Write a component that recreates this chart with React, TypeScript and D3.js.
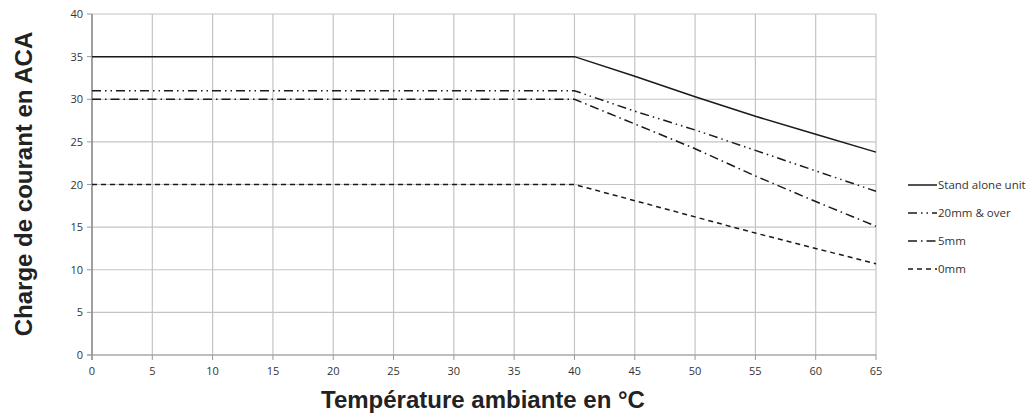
import React from "react";
import * as d3 from "d3";

const temps = [0, 5, 10, 15, 20, 25, 30, 35, 40, 45, 50, 55, 60, 65];
const standAlone = [35, 35, 35, 35, 35, 35, 35, 35, 35, 32.7, 30.3, 28.0, 25.9, 23.8];
const mm20 = [31, 31, 31, 31, 31, 31, 31, 31, 31, 28.6, 26.4, 24.0, 21.6, 19.2];
const mm5 = [30, 30, 30, 30, 30, 30, 30, 30, 30, 27.1, 24.2, 21.0, 18.0, 15.1];
const mm0 = [20, 20, 20, 20, 20, 20, 20, 20, 20, 18.1, 16.2, 14.3, 12.5, 10.7];
const xTicks = [0, 5, 10, 15, 20, 25, 30, 35, 40, 45, 50, 55, 60, 65];
const yTicks = [0, 5, 10, 15, 20, 25, 30, 35, 40];

const series = [
  { name: "Stand alone unit", values: standAlone, dash: "" },
  { name: "20mm & over", values: mm20, dash: "9,4,1.5,4,1.5,4" },
  { name: "5mm", values: mm5, dash: "9,4,1.5,4" },
  { name: "0mm", values: mm0, dash: "5,4" },
];

const W = 1030;
const H = 420;
const left = 92;
const right = 876;
const top = 14;
const bottom = 355;

export default function App() {
  const x = d3.scaleLinear().domain([0, 65]).range([left, right]);
  const y = d3.scaleLinear().domain([0, 40]).range([bottom, top]);
  const line = d3
    .line<number>()
    .x((_, i) => x(temps[i]))
    .y((d) => y(d));
  const tickFont = "'Open Sans', sans-serif";

  return (
    <svg width={W} height={H} style={{ position: "absolute", left: 0, top: 0, background: "#fff" }}>
      {/* grid */}
      {xTicks.map((t) => (
        <line key={"gx" + t} x1={x(t)} x2={x(t)} y1={top} y2={bottom} stroke="#c4c4c4" strokeWidth={1.2} />
      ))}
      {yTicks.map((t) => (
        <line key={"gy" + t} x1={left} x2={right} y1={y(t)} y2={y(t)} stroke="#c4c4c4" strokeWidth={1.2} />
      ))}
      {/* axes */}
      <line x1={left} x2={left} y1={top} y2={bottom + 5} stroke="#777" strokeWidth={1.2} />
      <line x1={left - 5} x2={right} y1={bottom} y2={bottom} stroke="#999" strokeWidth={1.2} />
      {yTicks.map((t) => (
        <g key={"yt" + t}>
          <line x1={left - 5} x2={left} y1={y(t)} y2={y(t)} stroke="#999" />
          <text x={left - 9} y={y(t) + 4} textAnchor="end" fontSize={11} fontFamily={tickFont} fill="#333">
            {t}
          </text>
        </g>
      ))}
      {xTicks.map((t) => (
        <g key={"xt" + t}>
          <line x1={x(t)} x2={x(t)} y1={bottom} y2={bottom + 5} stroke="#999" />
          <text x={x(t)} y={bottom + 20} textAnchor="middle" fontSize={11} fontFamily={tickFont} fill="#333">
            {t}
          </text>
        </g>
      ))}
      {/* series */}
      {series.map((s) => (
        <path
          key={s.name}
          d={line(s.values) || ""}
          fill="none"
          stroke="#1a1a1a"
          strokeWidth={1.5}
          strokeDasharray={s.dash || undefined}
        />
      ))}
      {/* legend */}
      {series.map((s, i) => {
        const ly = 185 + i * 28;
        return (
          <g key={"lg" + s.name}>
            <line x1={908} x2={937} y1={ly} y2={ly} stroke="#1a1a1a" strokeWidth={1.5} strokeDasharray={s.dash || undefined} />
            <text x={938} y={ly + 4} fontSize={11.5} fontFamily={tickFont} fill="#333">
              {s.name}
            </text>
          </g>
        );
      })}
      {/* axis titles */}
      <text
        x={483}
        y={408}
        textAnchor="middle"
        fontSize={24}
        fontWeight="bold"
        fontFamily="'Liberation Sans', Arial, sans-serif"
        fill="#222"
      >
        Température ambiante en °C
      </text>
      <text
        transform={`translate(32, 184) rotate(-90)`}
        textAnchor="middle"
        fontSize={24}
        fontWeight="bold"
        fontFamily="'Liberation Sans', Arial, sans-serif"
        fill="#222"
      >
        Charge de courant en ACA
      </text>
    </svg>
  );
}
